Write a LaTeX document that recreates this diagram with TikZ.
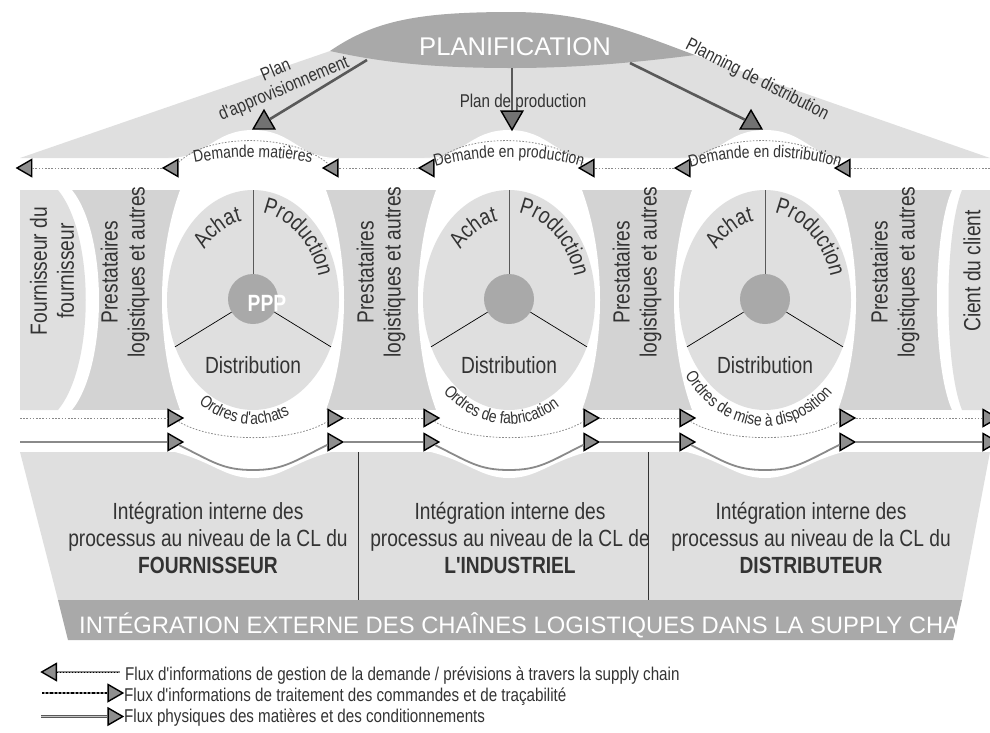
\documentclass[tikz,border=0pt]{standalone}
\usepackage{fontspec}
\setmainfont{Liberation Sans}
\newfontfamily\nfont{Liberation Sans}[FakeStretch=0.82]
\usetikzlibrary{shapes.geometric,decorations.text}

\definecolor{roofgray}{HTML}{DFDFDF}
\definecolor{colgray}{HTML}{D3D3D3}
\definecolor{midgray}{HTML}{A9A9A9}
\definecolor{trigray}{HTML}{8E8E8E}
\definecolor{plangray}{HTML}{595959}
\definecolor{txtgray}{HTML}{333333}
\definecolor{flowgray}{HTML}{8A8A8A}

\begin{document}
\begin{tikzpicture}[x=1pt, y=-1pt]
\tikzset{
  tri/.style={regular polygon, regular polygon sides=3, minimum size=19.6pt, inner sep=0pt, fill=trigray, draw=black, line width=1.4pt},
  tril/.style={tri, regular polygon rotate=90},
  trir/.style={tri, regular polygon rotate=-90},
  plantri/.style={regular polygon, regular polygon sides=3, minimum size=25pt, inner sep=0pt, fill=plangray!85!white, draw=black, line width=1.4pt},
  planline/.style={draw=plangray, line width=2.6pt},
  infoflow/.style={draw=flowgray, dash pattern=on 1.6pt off 1.6pt, line width=0.8pt},
  physflow/.style={draw=flowgray, line width=1.8pt},
  proc/.style={ellipse, fill=roofgray, minimum width=172pt, minimum height=220pt, inner sep=0pt},
  hub/.style={circle, fill=midgray, minimum size=50pt, inner sep=0pt},
  lbl/.style={text=txtgray, font=\nfont\fontsize{18.5}{20}\selectfont, inner sep=0pt},
  big/.style={text=txtgray, font=\nfont\fontsize{23.4}{27}\selectfont, align=center, inner sep=0pt},
  coltext/.style={big, rotate=90},
  curved/.style={decorate, decoration={text along path, text align=center, text color=txtgray, text={#1}}},
}
\useasboundingbox (0,0) rectangle (990,732);
\clip (0,0) rectangle (990,732);

% roof and planning
\fill[roofgray] (20,158) -- (333,50) -- (695,55) -- (990,158) -- cycle;
\fill[midgray] (330,51) .. controls (375,20) and (420,12) .. (512,12) .. controls (590,12) and (640,35) .. (695,55) .. controls (640,62) and (580,68) .. (512,68) .. controls (430,68) and (380,62) .. (330,51) -- cycle;
\node[text=white, font=\fontsize{25.6}{26}\selectfont, anchor=base] (plan) at (515,55) {PLANIFICATION};

% band of actors
\fill[colgray] (20,190) rectangle (990,410);
\fill[white] (20,190) -- (72,190) .. controls (108,235) and (108,365) .. (72,410) -- (20,410) -- cycle;
\fill[roofgray] (20,190) -- (58,190) .. controls (95,235) and (95,365) .. (58,410) -- (20,410) -- cycle;
\fill[white] (990,190) -- (952,190) .. controls (932,235) and (932,365) .. (952,410) -- (990,410) -- cycle;
\fill[roofgray] (990,190) -- (962,190) .. controls (944,235) and (944,365) .. (962,410) -- (990,410) -- cycle;
\begin{scope}
  \clip (20,190) rectangle (990,410);
  \foreach \cx in {253,509,765}
    \fill[white] (\cx,300) ellipse[x radius=91pt, y radius=184pt];
\end{scope}

% internal integration
\fill[roofgray] (20,452) -- (990,452) -- (962,600) -- (58,600) -- cycle;
\fill[midgray] (58,600) -- (962,600) -- (953,640) -- (68,640) -- cycle;
\draw[txtgray] (358,452) -- (358,600) (648,452) -- (648,600);

% white humps and dips
\foreach \cx in {253,509,765}{
  \fill[white] (\cx-85,158) .. controls (\cx-45,158) and (\cx-40,130) .. (\cx,130) .. controls (\cx+40,130) and (\cx+45,158) .. (\cx+85,158) -- cycle;
  \fill[white] (\cx-78,452) .. controls (\cx-40,462) and (\cx-28,478) .. (\cx,478) .. controls (\cx+28,478) and (\cx+40,462) .. (\cx+78,452) -- cycle;
}

% processes
\foreach \i/\cx in {1/253,2/509,3/765}{
  \node[proc] (e\i) at (\cx,300) {};
  \node[hub] (c\i) at (\cx,299) {};
  \draw[plangray, line width=0.9pt] (c\i) -- (e\i.north);
  \draw[black, line width=0.7pt] (c\i) -- (e\i.211) (c\i) -- (e\i.329);
  \node[big, anchor=base] (d\i) at (\cx,373) {Distribution};
  \path[curved={|\nfont\fontsize{23}{23}\selectfont|Achat}] ([shift={(150:62pt and 80pt)}]\cx,300) arc[start angle=150, end angle=90, x radius=62pt, y radius=80pt];
  \path[curved={|\nfont\fontsize{23}{23}\selectfont|Production}] ([shift={(95:68pt and 88pt)}]\cx,300) arc[start angle=95, end angle=5, x radius=68pt, y radius=88pt];
}
\node[text=white, font=\nfont\bfseries\fontsize{23.5}{24}\selectfont] (ppp) at (267,303) {PPP};

% actors
\node[coltext] (ff) at (52,271) {Fournisseur du\\fournisseur};
\foreach \i/\x in {1/125,2/381,3/637,4/895}
  \node[coltext] (pl\i) at (\x,272) {Prestataires\\logistiques et autres};
\node[coltext] (cc) at (972,271) {Cient du client};

% planning arrows
\node[lbl, anchor=base] (lpP) at (523,107) {Plan de production};
\node[lbl, align=center, rotate=23] (lpA) at (280,80) {Plan\\d'approvisionnement};
\node[lbl, rotate=-27] (lpD) at (757,80) {Planning de distribution};
\node[plantri] (tA) at (264,122.7) {};
\node[plantri, regular polygon rotate=180] (tP) at (512,117.3) {};
\node[plantri] (tD) at (751,122.7) {};
\coordinate (pA) at (367,60);
\coordinate (pP) at (512,68);
\coordinate (pD) at (630,63);
\draw[planline] (pA) -- (tA);
\draw[planline] (pP) -- (tP);
\draw[planline] (pD) -- (tD);

% flows
\node[tril] (a0) at (26.8,168) {};
\node[trir] (b4) at (988,418) {};
\node[trir] (s4) at (988,442) {};
\coordinate (aE) at (990,168);
\coordinate (bS) at (20,418);
\coordinate (sS) at (20,442);
\foreach \i/\cx in {1/253,2/509,3/765}{
  \node[tril] (aL\i) at (\cx-80,168) {};
  \node[tril] (aR\i) at (\cx+80,168) {};
  \node[trir] (bL\i) at (\cx-80,418) {};
  \node[trir] (bR\i) at (\cx+80,418) {};
  \node[trir] (sL\i) at (\cx-80,442) {};
  \node[trir] (sR\i) at (\cx+80,442) {};
  \draw[infoflow] (aL\i) .. controls (\cx-45,133) and (\cx+40,133) .. (aR\i);
  \draw[infoflow] (bL\i) .. controls (\cx-40,443) and (\cx+40,443) .. (bR\i);
  \draw[physflow] (sL\i) .. controls (\cx-40,462) and (\cx-30,470) .. (\cx,470) .. controls (\cx+30,470) and (\cx+40,462) .. (sR\i);
}
\draw[infoflow] (aE) -- (aR3) (aL3) -- (aR2) (aL2) -- (aR1) (aL1) -- (a0);
\draw[infoflow] (bS) -- (bL1) (bR1) -- (bL2) (bR2) -- (bL3) (bR3) -- (b4);
\draw[physflow] (sS) -- (sL1) (sR1) -- (sL2) (sR2) -- (sL3) (sR3) -- (s4);

% curved flow labels
\path[curved={|\nfont\fontsize{17}{17}\selectfont|Demande matières}] (163,173) .. controls (208,152) and (298,152) .. (343,173);
\path[curved={|\nfont\fontsize{17}{17}\selectfont|Demande en production}] (419,173) .. controls (464,152) and (554,152) .. (599,173);
\path[curved={|\nfont\fontsize{17}{17}\selectfont|Demande en distribution}] (675,173) .. controls (720,152) and (810,152) .. (855,173);
\path[curved={|\nfont\fontsize{17}{17}\selectfont|Ordres d'achats}] ([shift={(200:98pt and 124pt)}]253,300) arc[start angle=200, end angle=330, x radius=98pt, y radius=124pt];
\path[curved={|\nfont\fontsize{17}{17}\selectfont|Ordres de fabrication}] ([shift={(200:98pt and 124pt)}]509,300) arc[start angle=200, end angle=330, x radius=98pt, y radius=124pt];
\path[curved={|\nfont\fontsize{17}{17}\selectfont|Ordres de mise à disposition}] ([shift={(195:100pt and 126pt)}]765,300) arc[start angle=195, end angle=335, x radius=100pt, y radius=126pt];

% internal integration texts
\node[big] (i1) at (208,538) {Intégration interne des\\processus au niveau de la CL du\\\textbf{FOURNISSEUR}};
\node[big] (i2) at (510,538) {Intégration interne des\\processus au niveau de la CL de\\\textbf{L'INDUSTRIEL}};
\node[big] (i3) at (811,538) {Intégration interne des\\processus au niveau de la CL du\\\textbf{DISTRIBUTEUR}};
\begin{scope}
  \clip (58,600) -- (962,600) -- (953,640) -- (68,640) -- cycle;
  \node[text=white, font=\fontsize{23.8}{24}\selectfont, anchor=base west, inner sep=0pt] (ext) at (79,633) {INTÉGRATION EXTERNE DES CHAÎNES LOGISTIQUES DANS LA SUPPLY CHAIN};
\end{scope}

% legend
\node[tril] (lg1) at (51.5,672) {};
\coordinate (lg1e) at (120,672);
\draw[flowgray, line width=2.6pt] (lg1) -- (lg1e);
\draw[black, dotted, line width=1pt] (lg1) -- (lg1e);
\node[trir] (lg2) at (113,693) {};
\coordinate (lg2s) at (42,693);
\draw[flowgray, line width=2.6pt] (lg2s) -- (lg2);
\draw[black, dotted, line width=2.2pt] (lg2s) -- (lg2);
\node[trir] (lg3) at (113,716.5) {};
\coordinate (lg3s) at (41,716.5);
\draw[plangray, double=flowgray!50!white, double distance=1pt, line width=1pt] (lg3s) -- (lg3);
\node[lbl, anchor=base west] (lt1) at (125,680) {Flux d'informations de gestion de la demande / prévisions à travers la supply chain};
\node[lbl, anchor=base west] (lt2) at (124,701) {Flux d'informations de traitement des commandes et de traçabilité};
\node[lbl, anchor=base west] (lt3) at (124,722) {Flux physiques des matières et des conditionnements};
\end{tikzpicture}
\end{document}
